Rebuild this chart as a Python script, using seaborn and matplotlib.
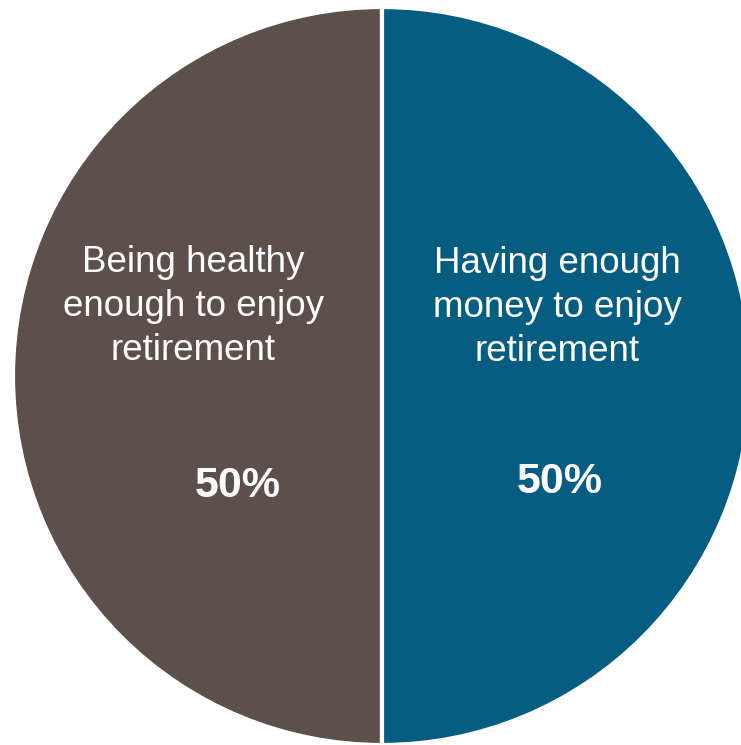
import matplotlib
matplotlib.use("Agg")
import matplotlib.pyplot as plt
import seaborn as sns

sns.set_style("white")
plt.rcParams["font.family"] = ["Liberation Sans", "DejaVu Sans"]

# Data
categories = ["Being healthy\nenough to enjoy\nretirement",
              "Having enough\nmoney to enjoy\nretirement"]
shares = [50, 50]
value_labels = ["50%", "50%"]
colors = sns.color_palette(["#5D504B", "#055E82"])

fig = plt.figure(figsize=(7.41, 7.45), dpi=100)
# square axes; the pie runs slightly past the right edge of the figure
ax = fig.add_axes([13 / 741, 0 / 745, 738 / 741, 738 / 745])

ax.pie(shares, colors=colors, startangle=90, counterclock=True,
       radius=1.0, wedgeprops=dict(edgecolor="white", linewidth=3.0))
ax.set_xlim(-1, 1)
ax.set_ylim(-1, 1)
ax.set_aspect("equal")
ax.axis("off")

# label placement inside each half
name_pos = [(-0.512, 0.188), (0.474, 0.186)]
value_pos = [(-0.390, -0.298), (0.482, -0.287)]

for cat, val, (nx, ny), (vx, vy) in zip(categories, value_labels, name_pos, value_pos):
    ax.text(nx, ny, cat, color="white", fontsize=26.5, ha="center",
            va="center", linespacing=1.33)
    ax.text(vx, vy, val, color="white", fontsize=31, fontweight="bold",
            ha="center", va="center")

fig.savefig("out.png", dpi=100, facecolor="white")
